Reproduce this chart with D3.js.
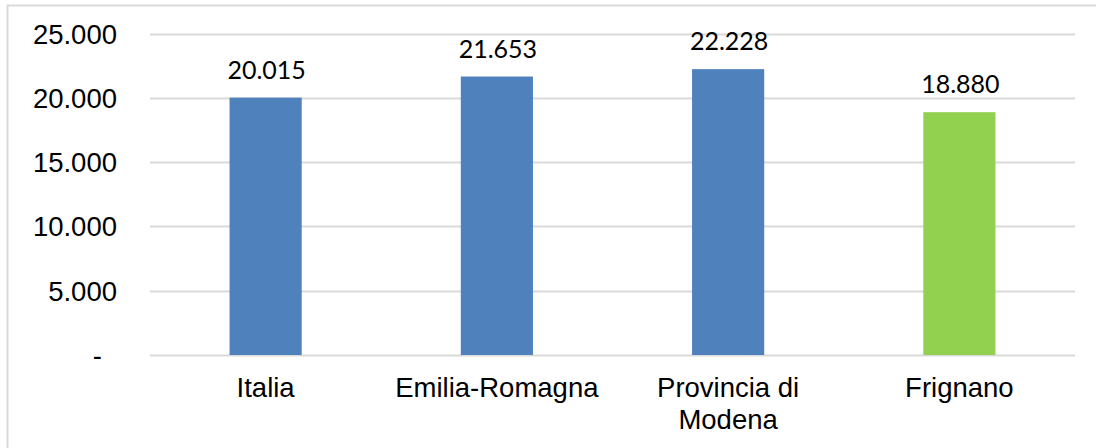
<!DOCTYPE html>
<html>
<head>
<meta charset="utf-8">
<script src="https://cdn.jsdelivr.net/npm/d3@7"></script>
<style>
  body { margin: 0; background: #fff; }
  svg { display: block; }
</style>
</head>
<body>
<svg id="vis" width="1096" height="448"></svg>
<script>
// data
var categories = ["Italia", "Emilia-Romagna", "Provincia di Modena", "Frignano"];
var values = [20015, 21653, 22228, 18880];
var barColours = ["#4f81bd", "#4f81bd", "#4f81bd", "#92d050"];
var tickValues = [0, 5000, 10000, 15000, 20000, 25000];
var tickLabels = ["-", "5.000", "10.000", "15.000", "20.000", "25.000"];

var w = 1096;
var h = 448;
var margin = {left: 150, right: 21, top: 33.5, bottom: 93};

var svg = d3.select("#vis");

// outer chart border (runs off the right and bottom edges)
svg.append("rect")
    .attr("x", 7.5)
    .attr("y", 5.5)
    .attr("width", w + 10)
    .attr("height", h + 10)
    .attr("fill", "none")
    .attr("stroke", "#d9d9d9")
    .attr("stroke-width", 2);

var xScale = d3.scaleBand()
    .domain(categories)
    .range([margin.left, w - margin.right])
    .paddingInner(0.688)
    .paddingOuter(0.344);

var yScale = d3.scaleLinear()
    .domain([0, 25000])
    .range([h - margin.bottom, margin.top]);

// gridlines
svg.append("g")
    .selectAll("line")
    .data(tickValues)
    .enter()
    .append("line")
    .attr("x1", margin.left)
    .attr("x2", w - margin.right)
    .attr("y1", function(d) { return Math.round(yScale(d)) + 0.5; })
    .attr("y2", function(d) { return Math.round(yScale(d)) + 0.5; })
    .attr("stroke", "#d9d9d9")
    .attr("stroke-width", 2);

// y tick labels
svg.append("g")
    .selectAll("text")
    .data(tickValues)
    .enter()
    .append("text")
    .attr("x", function(d) { return d === 0 ? 102 : 117; })
    .attr("y", function(d) { return yScale(d) + 10; })
    .attr("text-anchor", "end")
    .style("font-family", "'Liberation Sans', Arial, sans-serif")
    .style("font-size", "27.5px")
    .attr("fill", "#000")
    .text(function(d, i) { return tickLabels[i]; });

// bars
svg.append("g")
    .selectAll("rect")
    .data(values)
    .enter()
    .append("rect")
    .attr("x", function(d, i) { return xScale(categories[i]); })
    .attr("y", function(d) { return yScale(d); })
    .attr("width", xScale.bandwidth())
    .attr("height", function(d) { return yScale(0) - yScale(d); })
    .attr("fill", function(d, i) { return barColours[i]; });

// value labels
svg.append("g")
    .selectAll("text")
    .data(values)
    .enter()
    .append("text")
    .attr("x", function(d, i) { return xScale(categories[i]) + xScale.bandwidth() / 2 + 1; })
    .attr("y", function(d) { return yScale(d) - 19; })
    .attr("text-anchor", "middle")
    .style("font-family", "Lato, 'Open Sans', sans-serif")
    .style("font-size", "25px")
    .attr("fill", "#000")
    .text(function(d) { return d3.format(",")(d).replace(/,/g, "."); });

// category labels (Provincia di Modena wraps onto two lines)
var catLines = [["Italia"], ["Emilia-Romagna"], ["Provincia di", "Modena"], ["Frignano"]];
var cats = svg.append("g")
    .selectAll("text")
    .data(categories)
    .enter()
    .append("text")
    .attr("text-anchor", "middle")
    .style("font-family", "'Liberation Sans', Arial, sans-serif")
    .style("font-size", "27.5px")
    .attr("fill", "#000");

cats.each(function(d, i) {
    var cx = xScale(d) + xScale.bandwidth() / 2;
    d3.select(this).selectAll("tspan")
        .data(catLines[i])
        .enter()
        .append("tspan")
        .attr("x", cx)
        .attr("y", function(t, j) { return 397 + j * 32; })
        .text(function(t) { return t; });
});
</script>
</body>
</html>
